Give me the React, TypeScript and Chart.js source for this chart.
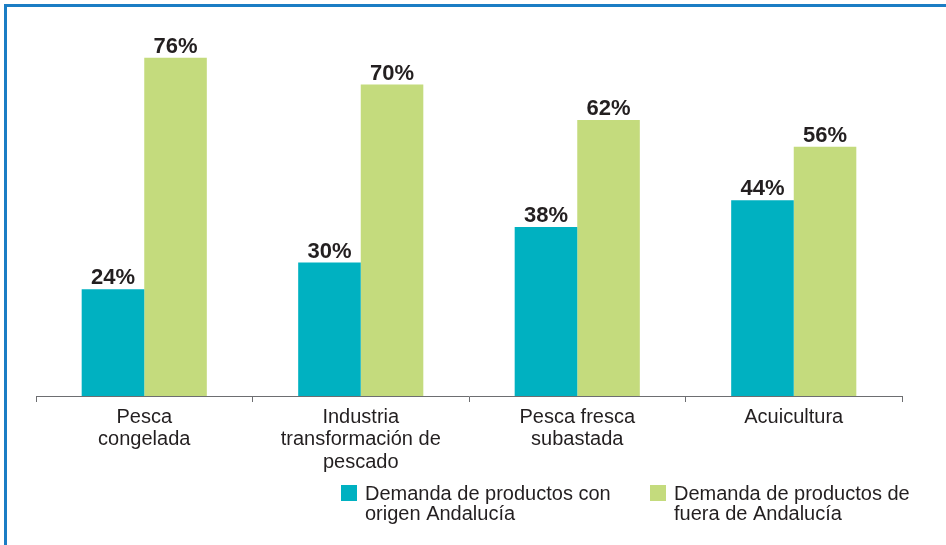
import React, { useEffect, useRef } from "react";
import { Chart, registerables } from "chart.js";

Chart.register(...registerables);

const categories: string[][] = [
  ["Pesca", "congelada"],
  ["Industria", "transformación de", "pescado"],
  ["Pesca fresca", "subastada"],
  ["Acuicultura"],
];
const origenAndalucia: number[] = [24, 30, 38, 44];
const fueraAndalucia: number[] = [76, 70, 62, 56];
const seriesLabels: string[][] = [
  ["Demanda de productos con", "origen Andalucía"],
  ["Demanda de productos de", "fuera de Andalucía"],
];
const seriesColors: string[] = ["#00b1c1", "#c4db7d"];

const FONT = "'Liberation Sans', Arial, sans-serif";
const TEXT = "#231f20";

const valueLabelPlugin = {
  id: "valueLabels",
  afterDatasetsDraw(chart: any) {
    const ctx = chart.ctx;
    ctx.save();
    ctx.font = `bold 22px ${FONT}`;
    ctx.fillStyle = TEXT;
    ctx.textAlign = "center";
    ctx.textBaseline = "alphabetic";
    chart.data.datasets.forEach((ds: any, i: number) => {
      const meta = chart.getDatasetMeta(i);
      meta.data.forEach((bar: any, j: number) => {
        ctx.fillText(`${ds.data[j]}%`, bar.x, bar.y - 5);
      });
    });
    ctx.restore();
  },
};

const legendPlugin = {
  id: "customLegend",
  afterDraw(chart: any) {
    const ctx = chart.ctx;
    const starts = [341, 650];
    const top = 485;
    ctx.save();
    ctx.font = `20px ${FONT}`;
    ctx.textBaseline = "middle";
    ctx.textAlign = "left";
    chart.data.datasets.forEach((ds: any, i: number) => {
      const x = starts[i];
      ctx.fillStyle = ds.backgroundColor;
      ctx.fillRect(x, top, 16, 16);
      ctx.fillStyle = TEXT;
      (ds.label as string[]).forEach((line: string, k: number) => {
        ctx.fillText(line, x + 24, top + 9 + k * 20);
      });
    });
    ctx.restore();
  },
};

export default function App() {
  const ref = useRef<HTMLCanvasElement | null>(null);
  useEffect(() => {
    if (!ref.current) return;
    const chart = new Chart(ref.current, {
      type: "bar",
      data: {
        labels: categories,
        datasets: [
          {
            label: seriesLabels[0] as any,
            data: origenAndalucia,
            backgroundColor: seriesColors[0],
          },
          {
            label: seriesLabels[1] as any,
            data: fueraAndalucia,
            backgroundColor: seriesColors[1],
          },
        ],
      },
      options: {
        animation: false,
        responsive: false,
        maintainAspectRatio: false,
        layout: { padding: { left: 36, right: 44, top: 40, bottom: 0 } },
        plugins: {
          legend: { display: false },
          tooltip: { enabled: false },
        },
        datasets: {
          bar: { categoryPercentage: 0.578, barPercentage: 1.0 },
        },
        scales: {
          x: {
            offset: true,
            grid: {
              display: true,
              offset: true,
              drawOnChartArea: false,
              drawTicks: true,
              tickLength: 6,
              color: "#6d6e71",
              lineWidth: 1,
            },
            border: { display: true, color: "#6d6e71", width: 1 },
            ticks: {
              color: TEXT,
              font: { family: FONT, size: 20, lineHeight: 1.12 },
              maxRotation: 0,
              autoSkip: false,
              padding: 4,
            },
            afterFit(scale: any) {
              scale.height = 149;
            },
          },
          y: {
            display: false,
            min: 0,
            max: 80,
          },
        },
      },
      plugins: [valueLabelPlugin, legendPlugin],
    });
    return () => chart.destroy();
  }, []);

  return (
    <div
      style={{
        position: "fixed",
        left: 0,
        top: 0,
        width: 946,
        height: 545,
        background: "#ffffff",
        overflow: "hidden",
      }}
    >
      <div
        style={{
          position: "absolute",
          left: 4,
          top: 4,
          width: 960,
          height: 600,
          borderLeft: "3px solid #1b7dc4",
          borderTop: "3px solid #1b7dc4",
          boxSizing: "border-box",
        }}
      />
      <canvas
        ref={ref}
        width={946}
        height={545}
        style={{ position: "absolute", left: 0, top: 0, width: 946, height: 545 }}
      />
    </div>
  );
}
